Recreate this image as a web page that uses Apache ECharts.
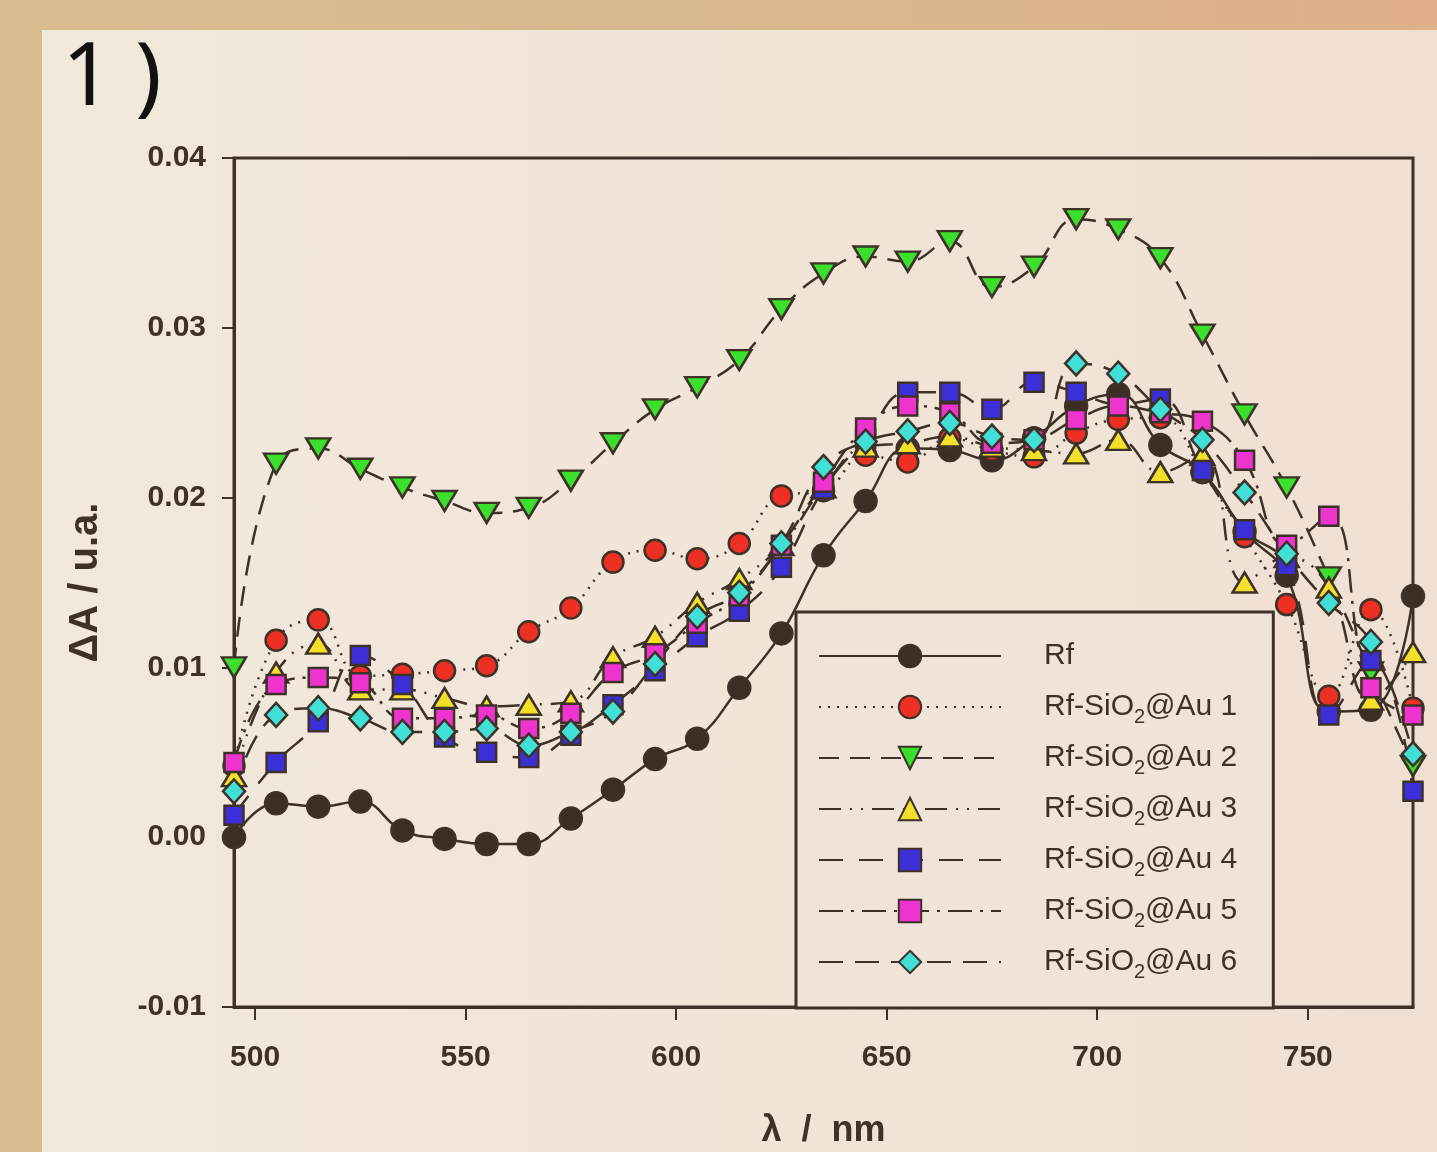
<!DOCTYPE html>
<html>
<head>
<meta charset="utf-8">
<title>ΔA vs λ</title>
<script src="https://cdn.jsdelivr.net/npm/echarts@6/dist/echarts.min.js"></script>
<style>
  html, body { margin: 0; padding: 0; }
  body {
    width: 1437px; height: 1152px; overflow: hidden; position: relative;
    background: linear-gradient(90deg, #d9bd8f 0%, #d8b88c 50%, #e0b088 100%);
  }
  #panel {
    position: absolute; left: 42px; top: 30px; right: 0; bottom: 0;
    background: linear-gradient(90deg, #f2e8dc 0%, #f1e5d8 50%, #f0e0d3 100%);
  }
  #chart { position: absolute; left: 0; top: 0; width: 1437px; height: 1152px; }
</style>
</head>
<body>
<div id="panel"></div>
<div id="chart"></div>
<script>
const wavelength = [495, 505, 515, 525, 535, 545, 555, 565, 575, 585, 595, 605, 615, 625, 635,
  645, 655, 665, 675, 685, 695, 705, 715, 725, 735, 745, 755, 765, 775];
const xTicks = [500, 550, 600, 650, 700, 750];

const rf  = [0.0000, 0.0020, 0.0018, 0.0021, 0.0004, -0.0001, -0.0004, -0.0004, 0.0011, 0.0028, 0.0046, 0.0058, 0.0088, 0.0120, 0.0166,
  0.0198, 0.0229, 0.0228, 0.0222, 0.0235, 0.0254, 0.0261, 0.0231, 0.0215, 0.0180, 0.0154, 0.0074, 0.0075, 0.0142];
const au1 = [0.0042, 0.0116, 0.0128, 0.0095, 0.0096, 0.0098, 0.0101, 0.0121, 0.0135, 0.0162, 0.0169, 0.0164, 0.0173, 0.0201, 0.0204,
  0.0225, 0.0221, 0.0235, 0.0228, 0.0224, 0.0238, 0.0246, 0.0247, 0.0215, 0.0177, 0.0137, 0.0083, 0.0134, 0.0076];
const au2 = [0.0100, 0.0220, 0.0229, 0.0217, 0.0206, 0.0198, 0.0191, 0.0194, 0.0210, 0.0232, 0.0252, 0.0265, 0.0281, 0.0311, 0.0332,
  0.0342, 0.0339, 0.0351, 0.0324, 0.0336, 0.0364, 0.0358, 0.0341, 0.0296, 0.0249, 0.0206, 0.0153, 0.0097, 0.0042];
const au3 = [0.0036, 0.0097, 0.0114, 0.0087, 0.0087, 0.0082, 0.0077, 0.0078, 0.0080, 0.0106, 0.0118, 0.0138, 0.0152, 0.0172, 0.0206,
  0.0230, 0.0232, 0.0236, 0.0230, 0.0228, 0.0226, 0.0234, 0.0215, 0.0225, 0.0150, 0.0165, 0.0147, 0.0081, 0.0109];
const au4 = [0.0013, 0.0044, 0.0068, 0.0107, 0.0090, 0.0059, 0.0050, 0.0047, 0.0060, 0.0078, 0.0098, 0.0118, 0.0133, 0.0159, 0.0205,
  0.0235, 0.0262, 0.0262, 0.0252, 0.0268, 0.0262, 0.0255, 0.0258, 0.0216, 0.0181, 0.0160, 0.0072, 0.0104, 0.0027];
const au5 = [0.0044, 0.0090, 0.0094, 0.0091, 0.0070, 0.0070, 0.0072, 0.0064, 0.0073, 0.0097, 0.0108, 0.0126, 0.0142, 0.0172, 0.0209,
  0.0241, 0.0254, 0.0250, 0.0232, 0.0234, 0.0246, 0.0254, 0.0250, 0.0245, 0.0222, 0.0172, 0.0189, 0.0088, 0.0072];
const au6 = [0.0027, 0.0072, 0.0076, 0.0070, 0.0062, 0.0062, 0.0064, 0.0054, 0.0062, 0.0074, 0.0102, 0.0130, 0.0144, 0.0173, 0.0218,
  0.0233, 0.0239, 0.0244, 0.0236, 0.0234, 0.0279, 0.0273, 0.0252, 0.0234, 0.0203, 0.0167, 0.0138, 0.0115, 0.0049];

const seriesNames = ['Rf', 'Rf-SiO2@Au 1', 'Rf-SiO2@Au 2', 'Rf-SiO2@Au 3', 'Rf-SiO2@Au 4', 'Rf-SiO2@Au 5', 'Rf-SiO2@Au 6'];

const ink = '#3d3128';

function pairs(ys) {
  return wavelength.map(function (x, i) { return [x, ys[i]]; });
}

function makeSeries(name, ys, fill, symbol, size, dash, rotate) {
  return {
    name: name,
    type: 'line',
    data: pairs(ys),
    smooth: 0.45,
    clip: false,
    symbol: symbol,
    symbolSize: size,
    symbolRotate: rotate || 0,
    showAllSymbol: true,
    lineStyle: { color: ink, width: 2.5, type: dash },
    itemStyle: { color: fill, borderColor: ink, borderWidth: 2.5 }
  };
}

const chart = echarts.init(document.getElementById('chart'));
chart.setOption({
  animation: false,
  backgroundColor: 'transparent',
  textStyle: { fontFamily: 'Liberation Sans, Arial, sans-serif' },
  graphic: [
    {
      type: 'text', left: 62, top: 36,
      style: { text: '1 )', fontSize: 88, fontFamily: 'Noto Sans, sans-serif', fill: '#111' }
    },
    {
      type: 'text', left: -46, top: 178,
      style: { text: '3', fontSize: 88, fontFamily: 'Noto Sans, sans-serif', fill: '#111' }
    }
  ],
  grid: {
    left: 234, right: 24, top: 158, bottom: 145,
    outerBoundsMode: 'none',
    show: true, borderColor: ink, borderWidth: 3
  },
  legend: {
    orient: 'vertical',
    left: 796, top: 612,
    padding: [24, 36, 26, 22],
    itemWidth: 182, itemHeight: 28, itemGap: 11,
    backgroundColor: '#f0e3d7',
    borderColor: ink, borderWidth: 3,
    formatter: function (n) { return n.replace('SiO2', 'SiO{s|2}'); },
    textStyle: {
      color: ink, fontSize: 30, fontFamily: 'Liberation Sans, Arial, sans-serif',
      lineHeight: 40, padding: [0, 0, 0, 38],
      rich: { s: { fontSize: 20, lineHeight: 20, verticalAlign: 'bottom', color: ink, fontFamily: 'Liberation Sans, Arial, sans-serif' } }
    },
    data: seriesNames
  },
  xAxis: {
    type: 'value', min: 495, max: 775,
    name: 'λ  /  nm', nameLocation: 'middle', nameGap: 106,
    nameTextStyle: { color: ink, fontSize: 36, fontWeight: 'bold' },
    axisLine: { show: true, onZero: false, lineStyle: { color: ink, width: 3 } },
    axisTick: { show: true, length: 13, lineStyle: { color: ink, width: 2 }, customValues: xTicks },
    axisLabel: { color: ink, fontSize: 30, fontWeight: 'bold', margin: 36, customValues: xTicks },
    splitLine: { show: false }
  },
  yAxis: {
    type: 'value', min: -0.01, max: 0.04, interval: 0.01,
    name: 'ΔA / u.a.', nameLocation: 'middle', nameGap: 128, nameRotate: 90,
    nameTextStyle: { color: ink, fontSize: 40, fontWeight: 'bold' },
    axisLine: { show: true, onZero: false, lineStyle: { color: ink, width: 3 } },
    axisTick: { show: true, length: 12, lineStyle: { color: ink, width: 2 } },
    axisLabel: { color: ink, fontSize: 30, fontWeight: 'bold', margin: 28,
      formatter: function (v) { return v.toFixed(2); } },
    splitLine: { show: false }
  },
  series: [
    makeSeries(seriesNames[0], rf,  '#3b2e25', 'circle', 22, 'solid'),
    makeSeries(seriesNames[1], au1, '#ee3024', 'circle', 21, [2, 7]),
    makeSeries(seriesNames[2], au2, '#3ae02c', 'triangle', [24, 20], [20, 11], 180),
    makeSeries(seriesNames[3], au3, '#f2e02a', 'triangle', [24, 20], [22, 9, 2, 9, 2, 9]),
    makeSeries(seriesNames[4], au4, '#3d2fd8', 'rect', 19, [24, 16]),
    makeSeries(seriesNames[5], au5, '#ee33cf', 'rect', 19, [24, 8, 3, 8]),
    makeSeries(seriesNames[6], au6, '#40e0d6', 'diamond', [22, 24], [24, 12])
  ]
});
window.addEventListener('resize', function () { chart.resize(); });
</script>
</body>
</html>
